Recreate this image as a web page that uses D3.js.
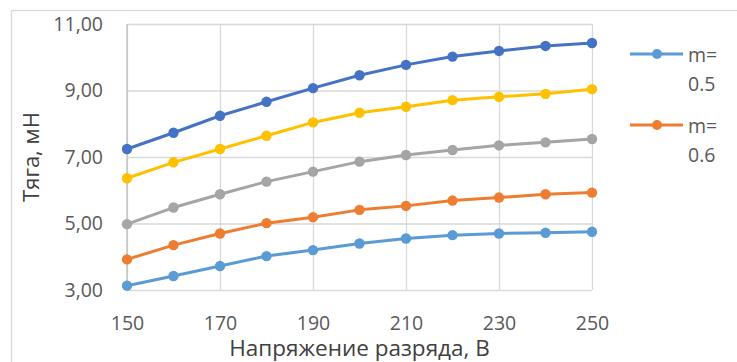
<!DOCTYPE html>
<html>
<head>
<meta charset="utf-8">
<script src="https://cdn.jsdelivr.net/npm/d3@7"></script>
<style>
  html, body { margin: 0; padding: 0; background: #fff; }
  svg { display: block; font-family: "Open Sans", "Noto Sans", sans-serif; }
</style>
</head>
<body>
<svg id="chart" width="737" height="362"></svg>
<script>
// Discharge voltage, V
const voltages = [150, 160, 170, 180, 190, 200, 210, 220, 230, 240, 250];

// Thrust, mN, for each mass-flow setting
const thrustM05 = [3.13, 3.42, 3.72, 4.02, 4.20, 4.40, 4.55, 4.65, 4.70, 4.72, 4.75];
const thrustM06 = [3.92, 4.35, 4.70, 5.01, 5.19, 5.41, 5.53, 5.69, 5.78, 5.88, 5.93];
const thrustM07 = [4.98, 5.48, 5.88, 6.26, 6.56, 6.86, 7.06, 7.21, 7.35, 7.44, 7.54];
const thrustM08 = [6.36, 6.84, 7.24, 7.64, 8.04, 8.33, 8.51, 8.71, 8.81, 8.90, 9.04];
const thrustM09 = [7.24, 7.73, 8.24, 8.66, 9.07, 9.46, 9.77, 10.02, 10.19, 10.34, 10.43];

const seriesNames = ["m=0.5", "m=0.6", "m=0.7", "m=0.8", "m=0.9"];
const legendNames = [["m=", "0.5"], ["m=", "0.6"]];
const xTicks = [150, 170, 190, 210, 230, 250];
const yTicks = [3, 5, 7, 9, 11];

const colors = ["#5B9BD5", "#ED7D31", "#A5A5A5", "#FFC000", "#4472C4"];
const series = [thrustM05, thrustM06, thrustM07, thrustM08, thrustM09].map((vals, i) => ({
  name: seriesNames[i],
  color: colors[i],
  points: vals.map((v, j) => ({ x: voltages[j], y: v }))
}));

const svg = d3.select("#chart");

// outer chart frame
svg.append("rect")
  .attr("x", 11.5).attr("y", 10.5)
  .attr("width", 740).attr("height", 360)
  .attr("fill", "none").attr("stroke", "#d9d9d9").attr("stroke-width", 1.3);

const plot = { left: 127, right: 592, top: 24, bottom: 290 };

const x = d3.scaleLinear().domain([150, 250]).range([plot.left, plot.right]);
const y = d3.scaleLinear().domain([3, 11]).range([plot.bottom, plot.top]);

const fmt = v => d3.format(".2f")(v).replace(".", ",");

// horizontal gridlines + y labels
const yAxis = d3.axisLeft(y).tickValues(yTicks).tickFormat(fmt)
  .tickSize(-(plot.right - plot.left)).tickPadding(24);
const gy = svg.append("g").attr("transform", `translate(${plot.left},0)`).call(yAxis);
gy.select(".domain").remove();
gy.selectAll(".tick line").attr("stroke", "#d9d9d9").attr("stroke-width", 1.3);
gy.selectAll(".tick text")
  .attr("fill", "#595959").attr("font-size", 19.5)
  .attr("font-family", "'Open Sans', sans-serif");

// vertical gridlines + x labels
const xAxis = d3.axisBottom(x).tickValues(xTicks).tickFormat(d3.format("d"))
  .tickSize(-(plot.bottom - plot.top)).tickPadding(26);
const gx = svg.append("g").attr("transform", `translate(0,${plot.bottom})`).call(xAxis);
gx.select(".domain").remove();
gx.selectAll(".tick line").attr("stroke", "#d9d9d9").attr("stroke-width", 1.3);
gx.selectAll(".tick text")
  .attr("fill", "#595959").attr("font-size", 19.5)
  .attr("font-family", "'Open Sans', sans-serif");

// left value axis line
svg.append("line")
  .attr("x1", plot.left).attr("x2", plot.left)
  .attr("y1", plot.top).attr("y2", plot.bottom)
  .attr("stroke", "#bfbfbf").attr("stroke-width", 1.3);

// axis titles
svg.append("text")
  .attr("x", (plot.left + plot.right) / 2).attr("y", 356)
  .attr("text-anchor", "middle")
  .attr("fill", "#404040").attr("font-size", 22.5)
  .text("Напряжение разряда, В");

svg.append("text")
  .attr("transform", `translate(39,${(plot.top + plot.bottom) / 2}) rotate(-90)`)
  .attr("text-anchor", "middle")
  .attr("fill", "#404040").attr("font-size", 22)
  .text("Тяга, мН");

// series lines and markers
const line = d3.line().x(d => x(d.x)).y(d => y(d.y));

const gs = svg.append("g").selectAll("g").data(series).join("g");
gs.append("path")
  .attr("d", d => line(d.points))
  .attr("fill", "none")
  .attr("stroke", d => d.color)
  .attr("stroke-width", 3)
  .attr("stroke-linejoin", "round");
gs.selectAll("circle").data(d => d.points.map(p => ({ ...p, color: d.color })))
  .join("circle")
  .attr("cx", d => x(d.x)).attr("cy", d => y(d.y))
  .attr("r", 5.2)
  .attr("fill", d => d.color);

// legend (first two entries)
const legend = svg.append("g");
legendNames.forEach((lines, i) => {
  const gy0 = 54 + i * 71;
  const g = legend.append("g");
  g.append("line")
    .attr("x1", 630).attr("x2", 683).attr("y1", gy0).attr("y2", gy0)
    .attr("stroke", colors[i]).attr("stroke-width", 3);
  g.append("circle").attr("cx", 657).attr("cy", gy0).attr("r", 5)
    .attr("fill", colors[i]);
  lines.forEach((t, k) => {
    g.append("text")
      .attr("x", 688).attr("y", gy0 + 8 + k * 29)
      .attr("fill", "#595959").attr("font-size", 19.5)
      .text(t);
  });
});
</script>
</body>
</html>
